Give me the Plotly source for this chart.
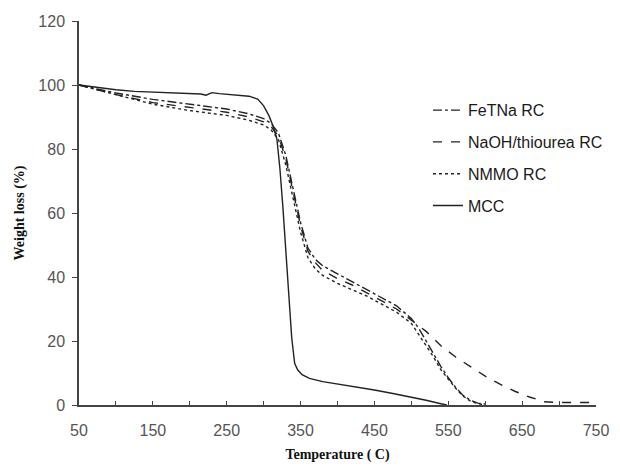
import plotly.graph_objects as go

# ---- data ----
series_names = ["FeTNa RC", "NaOH/thiourea RC", "NMMO RC", "MCC"]

fetna_T = [50, 100, 150, 200, 250, 280, 300, 310, 320, 330, 340, 350, 360, 370, 380, 400, 420, 440, 460, 480, 500, 510, 520, 530, 540, 550, 560, 570, 580, 590, 600]
fetna_W = [100, 97.5, 95.5, 94, 92.5, 91, 89.5, 88, 85, 78, 68, 57, 49, 45.5, 43.5, 41, 38.5, 36, 33.5, 31, 27, 24, 20, 16, 12, 8.5, 5.5, 3, 1.5, 0.6, 0.3]

naoh_T = [50, 100, 150, 200, 250, 280, 300, 310, 320, 330, 340, 350, 360, 370, 380, 400, 420, 440, 460, 480, 500, 520, 540, 560, 580, 600, 620, 640, 660, 680, 700, 720, 750]
naoh_W = [100, 97, 94.5, 93, 91.5, 90, 88.5, 87, 84, 77, 67, 56, 48, 44.5, 42, 39.5, 37.5, 35, 32.5, 30, 26.5, 23, 18.5, 15, 12, 9, 6.5, 4.3, 2.5, 1, 0.8, 0.8, 0.8]

nmmo_T = [50, 100, 150, 200, 250, 280, 300, 310, 320, 330, 340, 350, 360, 370, 380, 400, 420, 440, 460, 480, 500, 510, 520, 530, 540, 550, 560, 570, 580, 590, 600]
nmmo_W = [100, 97, 94, 92, 90.5, 89, 87.5, 86, 83, 75, 65, 54, 46, 42.5, 40.5, 38, 36, 34, 31.5, 29, 25.5, 22, 18.5, 15, 11, 8, 5.2, 2.8, 1.2, 0.4, 0]

mcc_T = [50, 75, 100, 125, 150, 175, 200, 215, 222, 230, 240, 260, 280, 292, 300, 307, 313, 318, 322, 326, 330, 334, 338, 342, 346, 352, 362, 380, 400, 425, 450, 475, 500, 520, 540, 548]
mcc_W = [100, 99.2, 98.5, 98, 97.8, 97.6, 97.4, 97.2, 96.8, 97.6, 97.3, 97, 96.5, 95.6, 93.5, 90.5, 87, 83, 74, 62, 48, 34, 21, 13, 11, 9.5, 8.3, 7.3, 6.6, 5.6, 4.7, 3.6, 2.5, 1.5, 0.4, 0]

x_tickvals = [50, 150, 250, 350, 450, 550, 650, 750]
x_ticktext = ["50", "150", "250", "350", "450", "550", "650", "750"]
y_tickvals = [0, 20, 40, 60, 80, 100, 120]
y_ticktext = ["0", "20", "40", "60", "80", "100", "120"]

# ---- figure ----
line_color = "#222222"
styles = ["dashdot", "dash", "dot", "solid"]
xs = [fetna_T, naoh_T, nmmo_T, mcc_T]
ys = [fetna_W, naoh_W, nmmo_W, mcc_W]

fig = go.Figure()
for name, x, y, dash in zip(series_names, xs, ys, styles):
    fig.add_trace(go.Scatter(
        x=x, y=y, mode="lines", name=name, legendgroup=name,
        line=dict(color=line_color, width=1.4, dash=dash),
    ))

tick_font = dict(family="Liberation Sans, Arial, sans-serif", size=16, color="#555555")
title_font = dict(family="Liberation Serif, Times New Roman, serif", size=14, color="#111111")

fig.update_layout(
    width=620, height=467,
    margin=dict(l=79, r=17, t=21, b=62),
    paper_bgcolor="white", plot_bgcolor="white",
    showlegend=True,
    legend=dict(
        x=0.675, y=0.812, xanchor="left", yanchor="top",
        font=dict(family="Liberation Sans, Arial, sans-serif", size=16, color="#1a1a1a"),
        bgcolor="rgba(0,0,0,0)", tracegroupgap=8,
    ),
)

fig.update_xaxes(
    range=[50, 750], tickmode="array", tickvals=x_tickvals, ticktext=x_ticktext,
    ticks="inside", ticklen=4, tickcolor="#444444", ticklabelstandoff=10,
    minor=dict(tick0=50, dtick=50, ticks="inside", ticklen=4, tickcolor="#444444"),
    showline=True, linecolor="#444444", linewidth=1.5, automargin=False,
    showgrid=False, zeroline=False, tickfont=tick_font,
    title=dict(text="<b>Temperature ( C)</b>", font=title_font, standoff=11),
)
fig.update_yaxes(
    range=[0, 120], tickmode="array", tickvals=y_tickvals, ticktext=y_ticktext,
    ticks="outside", ticklen=5, tickcolor="#444444", ticklabelstandoff=4,
    showline=True, linecolor="#444444", linewidth=1.5, automargin=False,
    showgrid=False, zeroline=False, tickfont=tick_font,
    title=dict(text="<b>Weight loss (%)</b>", font=title_font, standoff=10),
)

fig.write_html("out.html")
